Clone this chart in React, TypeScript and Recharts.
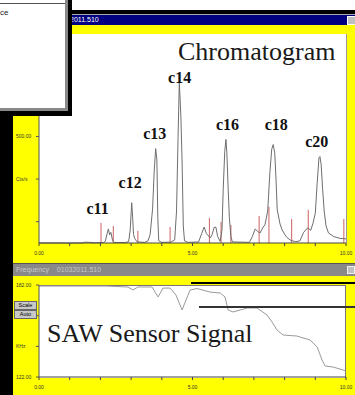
import { LineChart, Line, XAxis, YAxis, ReferenceLine, ReferenceDot } from "recharts";

// chromatogram trace (minutes, counts/s)
const chromTime = [
  0, 1.4, 1.5, 1.65, 1.8, 2.1, 2.16, 2.22, 2.26, 2.3, 2.34, 2.4, 2.45,
  2.8, 2.92, 2.97, 3.02, 3.05, 3.08, 3.12, 3.2, 3.45, 3.55, 3.62, 3.7, 3.75, 3.8, 3.84, 3.87, 3.9,
  4.0, 4.3, 4.42, 4.48, 4.53, 4.57, 4.62, 4.66, 4.7, 4.74, 4.85,
  5.2, 5.3, 5.38, 5.45, 5.58, 5.64, 5.7, 5.76, 5.82, 5.9, 5.96, 6.0, 6.05, 6.09, 6.12, 6.16, 6.2, 6.25, 6.3,
  6.85, 6.95, 7.04, 7.12, 7.2, 7.3, 7.36, 7.45, 7.52, 7.58, 7.63, 7.68, 7.72, 7.76, 7.85, 7.92, 8.05, 8.18, 8.35,
  8.5, 8.62, 8.75, 8.85, 8.92, 9.0, 9.06, 9.12, 9.15, 9.19, 9.24, 9.29, 9.35, 9.43, 9.6, 9.8, 10,
];
const chromSignal = [
  0, 0, 4, 3, 1, 2, 8, 45, 66, 38, 50, 10, 2,
  2, 6, 60, 189, 120, 40, 20, 5, 3, 10, 40, 160, 330, 443, 390, 120, 10,
  3, 4, 15, 150, 500, 755, 600, 390, 80, 10, 3,
  5, 45, 75, 45, 24, 40, 72, 75, 30, 8, 60, 250, 430, 486, 420, 260, 120, 30, 5,
  3, 30, 66, 55, 47, 75, 85, 150, 330, 440, 462, 420, 300, 156, 90, 61, 30, 14, 6,
  10, 50, 71, 60, 90, 140, 280, 400, 406, 370, 250, 150, 80, 47, 30, 22, 19,
];

// integration marks
const markTime = [2.02, 2.42, 3.22, 4.27, 5.55, 5.93, 6.25, 7.17, 7.49, 8.23, 8.77, 9.93];
const markHeight = [94, 80, 57, 75, 118, 99, 85, 127, 170, 113, 156, 113];

// peak names
const peakNames = ["c11", "c12", "c13", "c14", "c16", "c18", "c20"];
const peakLabelTime = [1.91, 2.97, 3.77, 4.58, 6.14, 7.73, 9.05];
const peakLabelLevel = [165, 283, 514, 778, 557, 557, 476];

// SAW sensor frequency
const sawTime = [
  0, 2.21, 2.9, 3.06, 3.22, 3.68, 3.88, 4.04, 4.27, 4.46, 4.66, 4.79, 4.92, 5.15, 5.57, 5.9,
  6.06, 6.16, 6.32, 6.78, 7.1, 7.43, 7.59, 7.75, 7.95, 8.4, 8.83, 9.06, 9.22, 9.32, 9.58, 9.9, 10,
];
const sawFreq = [
  181.3, 181.3, 180.7, 178.7, 180.7, 180.7, 174.2, 180, 180, 175.5, 165.7, 172.2, 178.7, 179.7, 177.4, 176.8,
  174.2, 165.7, 164.4, 167, 167, 162.4, 157.9, 152.7, 149.4, 148.7, 146.1, 141.6, 133.1, 129.2, 128.5, 126.6, 125.9,
];

const timeTicks = [0, 1, 2, 3, 4, 5, 6, 7, 8, 9, 10];
const timeTickLabels: Record<number, string> = { 0: "0.00", 5: "5.00", 10: "10.00" };
const chromTicks = [0, 100, 200, 300, 400, 500, 600, 700, 800, 900];
const chromTickLabels: Record<number, string> = { 0: "0.00", 300: "Cts/s", 500: "500.00" };
const sawTicks = [122, 132, 142, 152, 162, 172, 182];
const sawTickLabels: Record<number, string> = { 122: "122.00", 142: "KHz", 152: "152.00", 182: "182.00" };

const chromData = chromTime.map((t, i) => ({ t, v: chromSignal[i] }));
const sawData = sawTime.map((t, i) => ({ t, f: sawFreq[i] }));

const YELLOW = "#ffff00";
const tiny = { fontFamily: "'Liberation Sans', Arial, sans-serif", fontSize: 5, fill: "#333" };

function YTick(labels: Record<number, string>) {
  return (props: any) => (
    <text x={16} y={props.y} dominantBaseline="central" {...tiny}>
      {labels[props.payload.value] ?? ""}
    </text>
  );
}

function XTick(props: any) {
  return (
    <text x={props.x} y={props.y} textAnchor="middle" dominantBaseline="hanging" {...tiny}>
      {timeTickLabels[props.payload.value] ?? ""}
    </text>
  );
}

const box = (s: React.CSSProperties): React.CSSProperties => ({ position: "absolute", ...s });

export default function App() {
  return (
    <div style={box({ left: 0, top: 0, width: 355, height: 395, overflow: "hidden", background: "#fff" })}>
      {/* window frame */}
      <div style={box({ left: 0, top: 10, width: 355, height: 385, background: "#000" })} />
      <div style={box({ left: 13, top: 14, width: 342, height: 1, background: "#aaa" })} />
      <div style={box({ left: 13, top: 15, width: 342, height: 10, background: "#000080" })} />
      <div style={box({ left: 0, top: 16, color: "#fff", fontSize: 7, fontFamily: "'Liberation Sans', sans-serif", whiteSpace: "pre" })}>
        {"Chromatogram    01032011.510"}
      </div>
      <div style={box({ left: 347, top: 16, width: 7, height: 7, background: "#c0c0c0", border: "1px solid #fff" })} />
      <div style={box({ left: 13, top: 25, width: 342, height: 238, background: YELLOW })} />
      <div style={box({ left: 39, top: 34, width: 307, height: 209, background: "#fff", borderRight: "1px solid #999" })} />

      {/* lower panel */}
      <div style={box({ left: 13, top: 263, width: 342, height: 12, background: "#888", borderTop: "1px solid #555" })} />
      <div style={box({ left: 16, top: 266, color: "#c8c8c8", fontSize: 7, fontFamily: "'Liberation Sans', sans-serif", whiteSpace: "pre" })}>
        {"Frequency    01032011.510"}
      </div>
      <div style={box({ left: 347, top: 266, width: 6, height: 6, background: "#c0c0c0", border: "1px solid #eee" })} />
      <div style={box({ left: 13, top: 276, width: 342, height: 119, background: YELLOW })} />
      <div style={box({ left: 39, top: 285, width: 306, height: 92, background: "#fff", border: "1px solid #777", borderLeft: "none", borderBottom: "none" })} />

      {/* chromatogram */}
      <div style={box({ left: 0, top: 0 })}>
        <LineChart width={355} height={262} data={chromData} margin={{ top: 34, right: 9, bottom: 0, left: 13 }}>
          <XAxis dataKey="t" type="number" domain={[0, 10]} ticks={timeTicks} tickSize={3} tickMargin={5}
            stroke="#444" tick={XTick} height={19} />
          <YAxis type="number" domain={[0, 981]} ticks={chromTicks} tickSize={3} tickMargin={0}
            stroke="#555" tick={YTick(chromTickLabels)} width={26} />
          {markTime.map((t, i) => (
            <ReferenceLine key={i} segment={[{ x: t, y: 0 }, { x: t, y: markHeight[i] }]} stroke="#cc6060" strokeWidth={1} />
          ))}
          <Line type="linear" dataKey="v" stroke="#6e6e6e" strokeWidth={1} dot={false} isAnimationActive={false} />
          {peakNames.map((name, i) => (
            <ReferenceDot key={name} x={peakLabelTime[i]} y={peakLabelLevel[i]} r={0} stroke="none" fill="none"
              label={{ value: name, position: "center", fontSize: 16, fontWeight: "bold", fill: "#111",
                fontFamily: "'Liberation Serif', 'Times New Roman', serif" }} />
          ))}
        </LineChart>
      </div>

      {/* SAW signal */}
      <div style={box({ left: 0, top: 275 })}>
        <LineChart width={355} height={120} data={sawData} margin={{ top: 10, right: 9, bottom: 0, left: 13 }}>
          <XAxis dataKey="t" type="number" domain={[0, 10]} ticks={timeTicks} tickSize={3} tickMargin={5}
            stroke="#444" tick={XTick} height={18} />
          <YAxis type="number" domain={[122, 182]} ticks={sawTicks} tickSize={3} tickMargin={0}
            stroke="#555" tick={YTick(sawTickLabels)} width={26} />
          <Line type="linear" dataKey="f" stroke="#9a9a9a" strokeWidth={1} dot={false} isAnimationActive={false} />
        </LineChart>
      </div>

      {/* buttons */}
      <div style={box({ left: 14, top: 301, width: 21, height: 7, background: "#c8c8c8", border: "1px solid #666", fontSize: 5.5, lineHeight: "7px", textAlign: "center", fontFamily: "'Liberation Sans', sans-serif" })}>Scale</div>
      <div style={box({ left: 14, top: 310, width: 21, height: 7, background: "#c8c8c8", border: "1px solid #666", fontSize: 5.5, lineHeight: "7px", textAlign: "center", fontFamily: "'Liberation Sans', sans-serif" })}>Auto</div>

      {/* leader lines */}
      <div style={box({ left: 191, top: 282, width: 164, height: 1.5, background: "#000" })} />
      <div style={box({ left: 199, top: 306, width: 156, height: 1.5, background: "#333" })} />

      {/* captions */}
      <div style={box({ left: 178, top: 39, fontSize: 26, lineHeight: "26px", fontFamily: "'Liberation Serif', 'Times New Roman', serif", color: "#1a1a1a" })}>Chromatogram</div>
      <div style={box({ left: 47, top: 321, fontSize: 26, lineHeight: "26px", fontFamily: "'Liberation Serif', 'Times New Roman', serif", color: "#1a1a1a" })}>SAW Sensor Signal</div>

      {/* overlapping dialog */}
      <div style={box({ left: 0, top: 0, width: 72, height: 116, background: "#000" })} />
      <div style={box({ left: 0, top: 0, width: 68, height: 111, background: "#888" })} />
      <div style={box({ left: 0, top: 0, width: 65, height: 108, background: "#fff" })} />
      <div style={box({ left: 0, top: 3, width: 65, height: 1, background: "#555" })} />
      <div style={box({ left: 0, top: 8, fontSize: 8, fontFamily: "'Liberation Sans', sans-serif", color: "#222" })}>ce</div>
    </div>
  );
}
